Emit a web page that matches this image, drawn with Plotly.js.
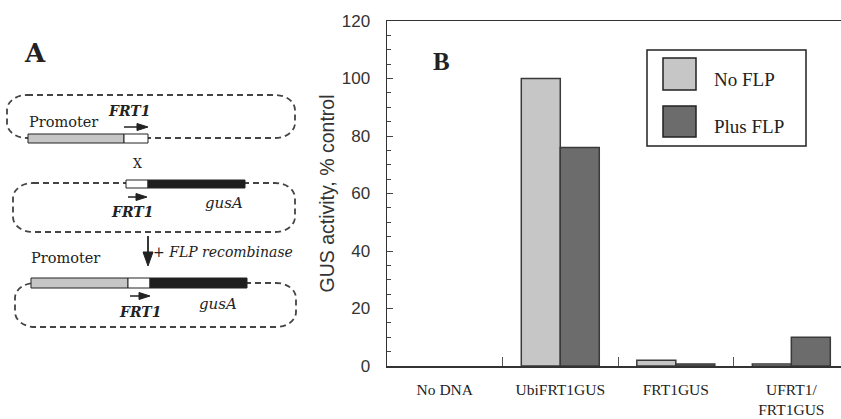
<!DOCTYPE html>
<html>
<head>
<meta charset="utf-8">
<script src="https://cdn.plot.ly/plotly-3.0.1.min.js"></script>
<style>html,body{margin:0;padding:0;background:#fff;}#chart{width:841px;height:419px;}</style>
</head>
<body>
<div id="chart"></div>
<script>
// ---- data ----
const categories = ["No DNA", "UbiFRT1GUS", "FRT1GUS", "UFRT1/<br>FRT1GUS"];
const noFLP = [0, 100, 2, 0.7];
const plusFLP = [0, 76, 0.7, 10];
const seriesNames = ["No FLP", "Plus FLP"];
const yTitle = "GUS activity, % control";

// ---- helpers (pixel -> paper, margins are 0 so paper == figure) ----
const W = 841, H = 419;
const X = x => (x / W).toFixed(5);
const Y = y => (1 - y / H).toFixed(5);
const XN = x => x / W, YN = y => 1 - y / H;

function roundRect(x0, y0, x1, y1, rx, ry) {
  const kx = 0.5523 * rx, ky = 0.5523 * ry;
  const p = (x, y) => X(x) + "," + Y(y);
  return "M" + p(x0 + rx, y0) +
    " L" + p(x1 - rx, y0) +
    " C" + p(x1 - rx + kx, y0) + " " + p(x1, y0 + ry - ky) + " " + p(x1, y0 + ry) +
    " L" + p(x1, y1 - ry) +
    " C" + p(x1, y1 - ry + ky) + " " + p(x1 - rx + kx, y1) + " " + p(x1 - rx, y1) +
    " L" + p(x0 + rx, y1) +
    " C" + p(x0 + rx - kx, y1) + " " + p(x0, y1 - ry + ky) + " " + p(x0, y1 - ry) +
    " L" + p(x0, y0 + ry) +
    " C" + p(x0, y0 + ry - ky) + " " + p(x0 + rx - kx, y0) + " " + p(x0 + rx, y0) + " Z";
}
const dashLine = {color: "#444", width: 1.8, dash: "6px,4px"};
function dashed(x0, y0, x1, y1) {
  return {type: "path", xref: "paper", yref: "paper", path: roundRect(x0, y0, x1, y1, 20, 15), line: dashLine};
}
function box(x0, y0, x1, y1, fill, lw) {
  return {type: "rect", xref: "paper", yref: "paper", x0: XN(x0), x1: XN(x1), y0: YN(y0), y1: YN(y1),
    fillcolor: fill, line: {color: "#222", width: lw === undefined ? 1 : lw}};
}
function rightArrow(xa, xb, y) {
  return [
    {type: "line", xref: "paper", yref: "paper", x0: XN(xa), x1: XN(xb - 9), y0: YN(y), y1: YN(y), line: {color: "#222", width: 1.5}},
    {type: "path", xref: "paper", yref: "paper", path: "M" + X(xb - 11) + "," + Y(y - 3.5) + " L" + X(xb) + "," + Y(y) + " L" + X(xb - 11) + "," + Y(y + 3.5) + " Z",
      fillcolor: "#222", line: {color: "#222", width: 1}}
  ];
}
function downArrow(x, ya, yb) {
  return [
    {type: "line", xref: "paper", yref: "paper", x0: XN(x), x1: XN(x), y0: YN(ya), y1: YN(yb - 12), line: {color: "#222", width: 1.8}},
    {type: "path", xref: "paper", yref: "paper", path: "M" + X(x - 5) + "," + Y(yb - 14) + " L" + X(x) + "," + Y(yb) + " L" + X(x + 5) + "," + Y(yb - 14) + " Z",
      fillcolor: "#222", line: {color: "#222", width: 1}}
  ];
}
const light = "#c6c6c6", dark = "#6c6c6c", white = "#ffffff", black = "#1e1e1e";

const shapes = [
  dashed(7, 95, 295, 138),
  dashed(13, 183, 295, 232),
  dashed(15, 283, 296, 327),
  box(28, 134, 124, 143, light), box(124, 134, 148, 143, white),
  box(126, 180, 148, 188, white), box(148, 180, 245, 188, black),
  box(31, 278, 128, 288, light), box(128, 278, 150, 288, white), box(150, 278, 247, 288, black),
  ...rightArrow(124, 148, 127),
  ...rightArrow(128, 147, 197),
  ...rightArrow(130, 150, 296),
  ...downArrow(148, 236, 266),
  // legend
  box(647, 50, 806, 146, "rgba(0,0,0,0)", 1.5),
  box(663, 58, 696, 90, light, 1.5),
  box(663, 106, 696, 137, dark, 1.5)
];

const serif = "DejaVu Serif, serif";
function txt(text, x, y, size, opts) {
  return Object.assign({text: text, xref: "paper", yref: "paper", x: XN(x), y: YN(y), showarrow: false,
    xanchor: "left", yanchor: "middle", font: {family: serif, size: size, color: "#222"}}, opts || {});
}
const annotations = [
  txt("<b>A</b>", 22, 53, 26),
  txt("Promoter", 27, 122, 14.5),
  txt("<b><i>FRT1</i></b>", 106, 111, 14),
  txt("X", 131, 163, 12.5),
  txt("<b><i>FRT1</i></b>", 109, 212, 14),
  txt("<i>gusA</i>", 203, 203, 15),
  txt("+ <i>FLP recombinase</i>", 151, 252, 14),
  txt("Promoter", 29, 258, 14.5),
  txt("<b><i>FRT1</i></b>", 117, 312, 14),
  txt("<i>gusA</i>", 197, 304, 15),
  txt("<b>B</b>", 431, 61, 25, {font: {family: "Liberation Serif, serif", size: 25, color: "#222"}}),
  txt(seriesNames[0], 712, 79, 19, {font: {family: "Liberation Serif, serif", size: 19, color: "#222"}}),
  txt(seriesNames[1], 712, 126, 19, {font: {family: "Liberation Serif, serif", size: 19, color: "#222"}})
];

const edgeW = [0, 1.5, 1.5, 1.5];
const data = [
  {type: "bar", name: seriesNames[0], x: categories, y: noFLP, marker: {color: light, line: {color: "#3a3a3a", width: edgeW}}, showlegend: false, hoverinfo: "skip"},
  {type: "bar", name: seriesNames[1], x: categories, y: plusFLP, marker: {color: dark, line: {color: "#3a3a3a", width: edgeW}}, showlegend: false, hoverinfo: "skip"}
];

const layout = {
  width: 841, height: 419,
  margin: {l: 0, r: 0, t: 0, b: 0, pad: 0},
  paper_bgcolor: "#fff", plot_bgcolor: "#fff",
  barmode: "group", bargap: 0.325, bargroupgap: 0,
  showlegend: false,
  xaxis: {
    type: "category", domain: [387 / 841, 1], range: [-0.5, 3.43], automargin: false,
    showgrid: false, zeroline: false, showline: true, mirror: true, linecolor: "#333", linewidth: 1.5,
    ticks: "inside", tickson: "boundaries", ticklen: 9, tickwidth: 1, tickcolor: "#555",
    tickfont: {family: "Liberation Serif, serif", size: 15.5, color: "#222"}, ticklabelstandoff: 9
  },
  yaxis: {
    domain: [53 / 419, 398 / 419], range: [0, 120], automargin: false, dtick: 20,
    showgrid: false, zeroline: false, showline: true, linecolor: "#333", linewidth: 1.5,
    ticks: "inside", ticklen: 6, tickwidth: 1, tickcolor: "#444",
    minor: {dtick: 5, ticks: "inside", ticklen: 4, tickwidth: 1, tickcolor: "#444"},
    tickfont: {family: "Liberation Sans, Arial, sans-serif", size: 17, color: "#333"}, ticklabelstandoff: 12,
    title: {text: yTitle, font: {family: "Liberation Sans, Arial, sans-serif", size: 19.5, color: "#333"}, standoff: 2}
  },
  shapes: shapes,
  annotations: annotations
};
Plotly.newPlot("chart", data, layout, {displayModeBar: false, staticPlot: true});
</script>
</body>
</html>
